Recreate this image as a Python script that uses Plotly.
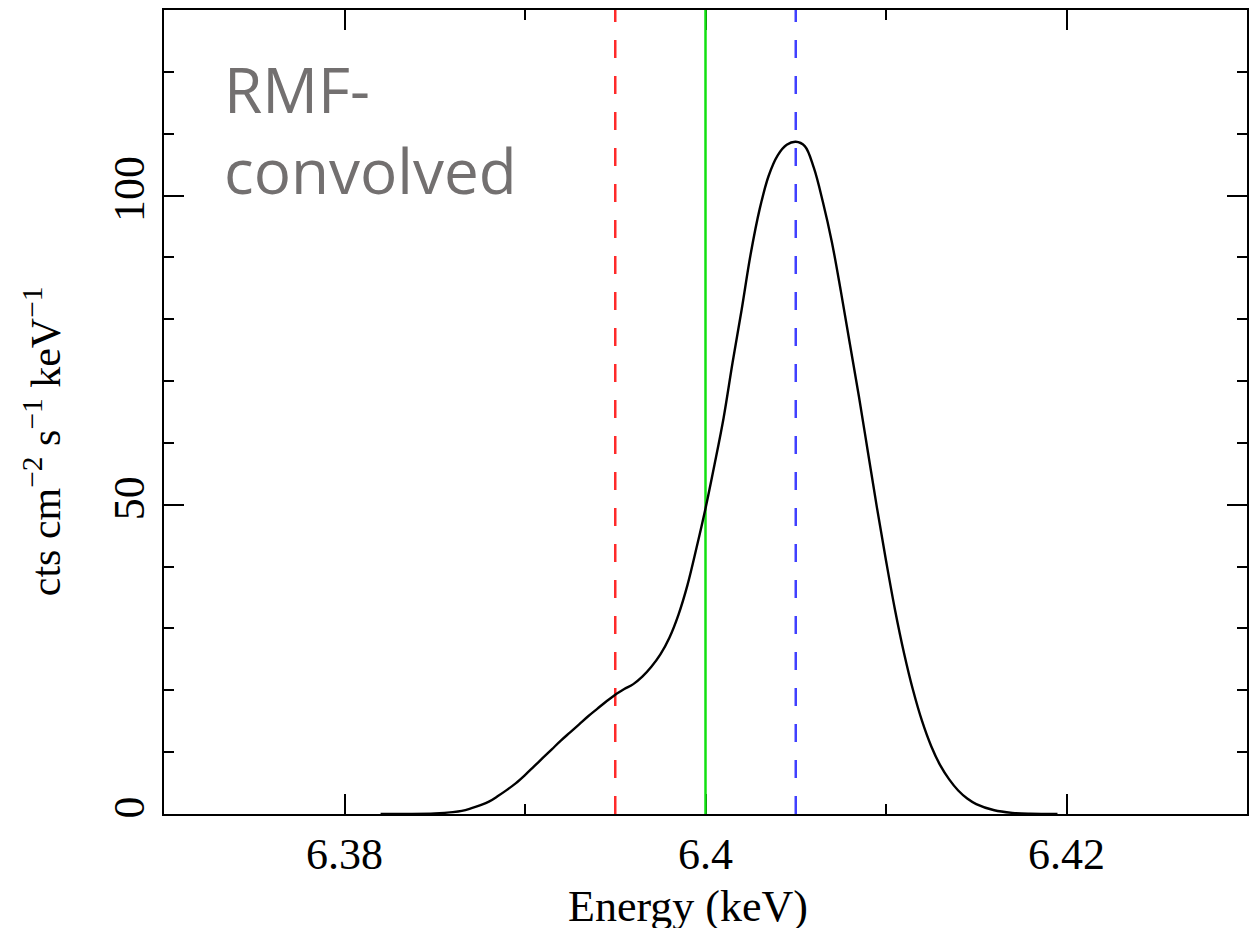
import plotly.graph_objects as go

# ---- data ----
energy_keV = [6.3820, 6.3835, 6.3850, 6.3860, 6.3865, 6.3870, 6.3875, 6.3880, 6.3885,
              6.3890, 6.3895, 6.3900, 6.3905, 6.3910, 6.3915, 6.3920, 6.3925, 6.3930,
              6.3935, 6.3940, 6.3945, 6.3950, 6.3955, 6.3960, 6.3965, 6.3970, 6.3975,
              6.3980, 6.3985, 6.3990, 6.3995, 6.4000, 6.4005, 6.4010, 6.4015, 6.4020,
              6.4025, 6.4030, 6.4035, 6.4040, 6.4045, 6.4050, 6.4055, 6.4060, 6.4065,
              6.4070, 6.4075, 6.4080, 6.4085, 6.4090, 6.4095, 6.4100, 6.4105, 6.4110,
              6.4115, 6.4120, 6.4125, 6.4130, 6.4135, 6.4140, 6.4145, 6.4150, 6.4160,
              6.4170, 6.4180, 6.4195]
flux = [0.0, 0.02, 0.1, 0.3, 0.5, 0.9, 1.4, 2.0, 2.9,
        3.9, 5.0, 6.3, 7.7, 9.1, 10.5, 11.9, 13.2, 14.5,
        15.8, 17.0, 18.2, 19.3, 20.2, 21.0, 22.2, 23.8, 25.8,
        28.5, 32.2, 37.0, 43.0, 49.4, 56.5, 64.0, 73.0, 81.5,
        90.5, 97.8, 103.2, 106.5, 108.2, 108.7, 108.0, 104.5, 99.0,
        92.5, 84.5, 76.0, 67.5, 58.5, 49.5, 41.0, 33.0, 26.0,
        20.0, 15.0, 11.0, 7.9, 5.6, 3.8, 2.5, 1.6, 0.6,
        0.18, 0.04, 0.0]

line_energies = [6.395, 6.400, 6.405]
line_colors = ["#ff2a2a", "#12e012", "#4040ff"]
line_dashes = ["18px,18px", "solid", "18px,18px"]

x_range = [6.37, 6.43]
y_range = [0, 130]
x_major = [6.38, 6.40, 6.42]
x_major_text = ["6.38", "6.4", "6.42"]
x_minor = [6.37, 6.39, 6.41, 6.43]
y_major = [0, 50, 100]
y_major_text = ["0", "50", "100"]

# ---- layout constants (pixels) ----
W, H = 1250, 928
L, R, T, B = 164, 1, 10, 114
pw, ph = W - L - R, H - T - B


def px_x(p):
    return (p - L) / pw


def px_y(p):
    return (H - B - p) / ph


fig = go.Figure()

for e, c, d in zip(line_energies, line_colors, line_dashes):
    fig.add_trace(go.Scatter(x=[e, e], y=y_range, mode="lines",
                             line=dict(color=c, width=2.5, dash=d),
                             hoverinfo="skip", showlegend=False))

fig.add_trace(go.Scatter(x=energy_keV, y=flux, mode="lines",
                         line=dict(color="black", width=2.4, shape="spline", smoothing=1.0),
                         showlegend=False))

serif = "Liberation Serif, Times New Roman, serif"

fig.update_layout(
    width=W, height=H,
    margin=dict(l=L, r=R, t=T, b=B, pad=0),
    paper_bgcolor="white", plot_bgcolor="white",
    font=dict(family=serif, size=44, color="black"),
    showlegend=False,
)

fig.update_xaxes(
    range=x_range, tickmode="array", tickvals=x_major, ticktext=x_major_text,
    ticks="inside", ticklen=20, tickwidth=2, tickcolor="black",
    showline=True, linewidth=2, linecolor="black", mirror="ticks",
    showgrid=False, zeroline=False, layer="below traces",
    tickfont=dict(family=serif, size=44, color="black"),
    minor=dict(tickmode="array", tickvals=x_minor, ticks="inside", ticklen=10,
               tickwidth=2, tickcolor="black", showgrid=False),
)

fig.update_yaxes(
    range=y_range, tickmode="array", tickvals=y_major, ticktext=y_major_text,
    tickangle=-90,
    ticks="inside", ticklen=20, tickwidth=2, tickcolor="black",
    showline=True, linewidth=2, linecolor="black", mirror="ticks",
    showgrid=False, zeroline=False, layer="below traces",
    tickfont=dict(family=serif, size=44, color="black"),
    minor=dict(dtick=10, tick0=0, ticks="inside", ticklen=10,
               tickwidth=2, tickcolor="black", showgrid=False),
)

# axis titles as annotations for exact placement
fig.add_annotation(
    text="Energy (keV)", xref="paper", yref="paper",
    x=px_x(689), y=px_y(906), xanchor="center", yanchor="middle",
    showarrow=False, font=dict(family=serif, size=44, color="black"),
)
fig.add_annotation(
    text="cts cm<sup>−2</sup> s<sup>−1</sup> keV<sup>−1</sup>", xref="paper", yref="paper",
    x=px_x(42), y=px_y(441), xanchor="center", yanchor="middle", textangle=-90,
    showarrow=False, font=dict(family=serif, size=42, color="black"),
)

fig.add_annotation(
    text="RMF-<br>convolved", xref="paper", yref="paper",
    x=px_x(222), y=px_y(45), xanchor="left", yanchor="top", align="left",
    showarrow=False, font=dict(family="Open Sans, sans-serif", size=62, color="#737070"),
)

fig.write_html("out.html")
